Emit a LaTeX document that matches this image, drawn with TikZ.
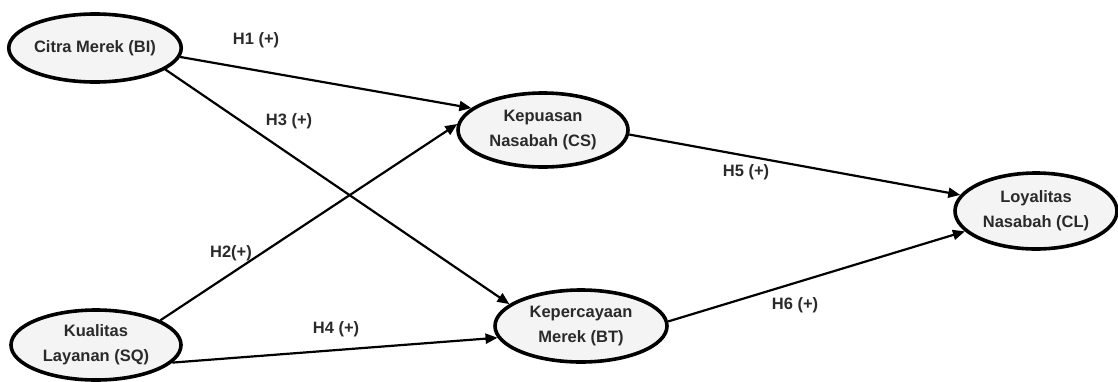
\documentclass[tikz,border=0pt]{standalone}
\usepackage{fontspec}
\setmainfont{Liberation Sans}
\usetikzlibrary{shapes.geometric,arrows.meta}
\definecolor{txt}{HTML}{2A2A2A}
\definecolor{fillc}{HTML}{F4F4F4}
\begin{document}
\begin{tikzpicture}[x=1pt,y=-1pt,
  var/.style={ellipse,draw=black,line width=3.6pt,fill=fillc,inner sep=0pt,
    minimum width=#1,font=\fontsize{16.5}{25}\selectfont\bfseries,text=txt,align=center},
  var/.default=168pt,
  path/.style={line width=2.2pt,-{Triangle[length=12pt,width=10pt]}},
  lab/.style={font=\fontsize{16.5}{18}\selectfont\bfseries,text=txt}]
\useasboundingbox (0,0) rectangle (1118,381);
\node[var=170pt,minimum height=68pt] (BI) at (95,48) {Citra Merek (BI)};
\node[var=170pt,minimum height=74pt] (CS) at (543,130) {Kepuasan\\Nasabah (CS)};
\node[var=162pt,minimum height=76pt] (CL) at (1036,211) {Loyalitas\\Nasabah (CL)};
\node[var=170pt,minimum height=70pt] (SQ) at (96,345) {Kualitas\\Layanan (SQ)};
\node[var=172pt,minimum height=72pt] (BT) at (581,326) {Kepercayaan\\Merek (BT)};
\draw[path] (BI.-6) -- (CS.163);
\draw[path] (BI.-17) -- (BT.163);
\draw[path] (SQ.21) -- (CS.176);
\draw[path] (SQ.-13) -- (BT.-172);
\draw[path] (CS.-3) -- (CL.168);
\draw[path] (BT.3) -- (CL.-164);
\node[lab] (h1) at (256,40) {H1 (+)};
\node[lab] (h3) at (289,121) {H3 (+)};
\node[lab] (h2) at (231,253) {H2(+)};
\node[lab] (h4) at (336,329) {H4 (+)};
\node[lab] (h5) at (746,172) {H5 (+)};
\node[lab] (h6) at (795,305) {H6 (+)};
\end{tikzpicture}
\end{document}
